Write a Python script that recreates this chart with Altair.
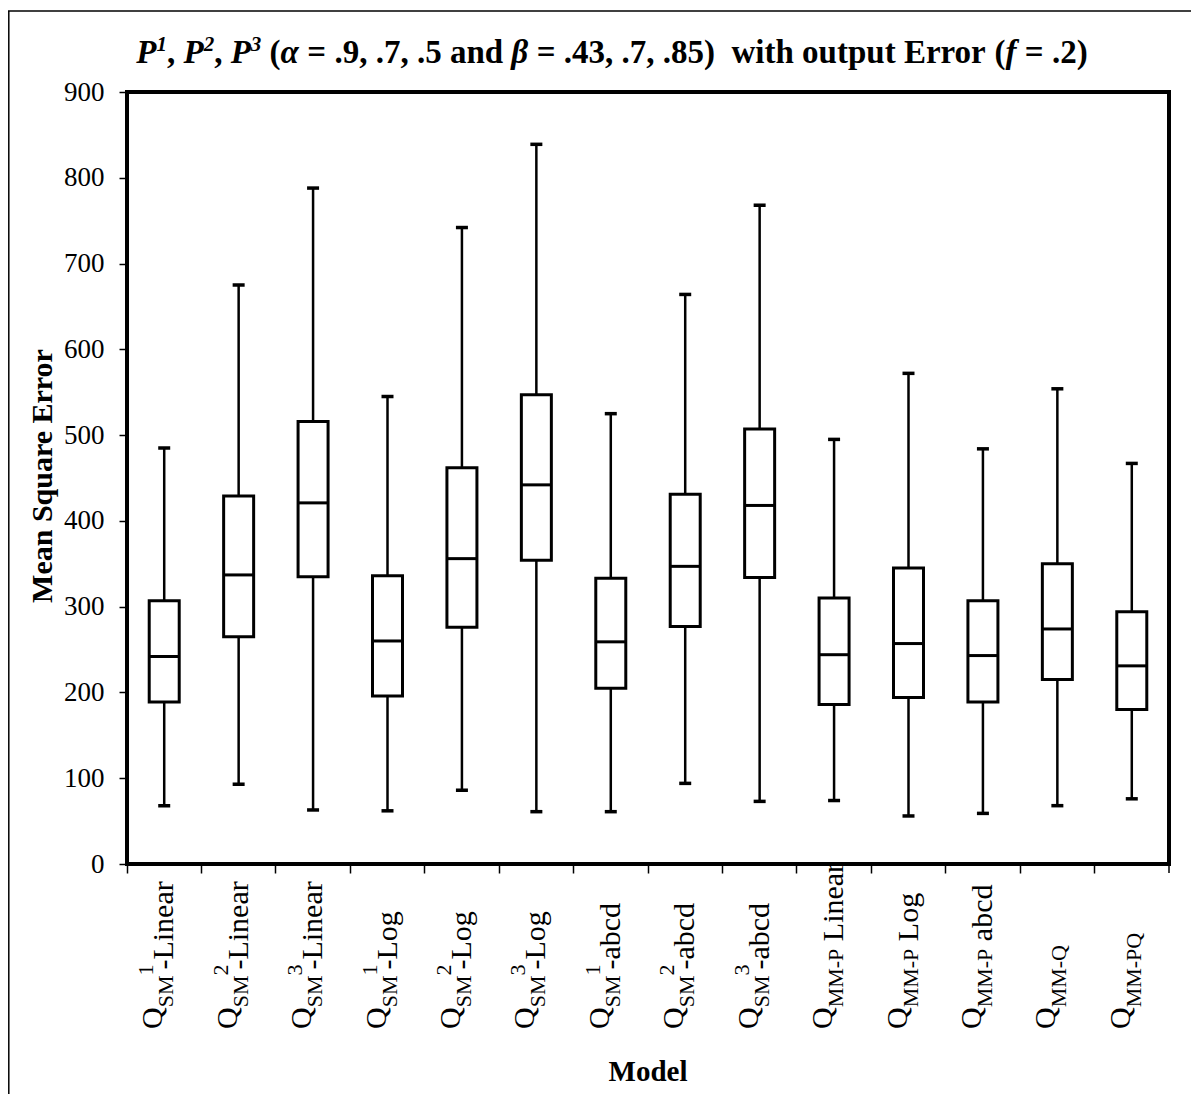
import altair as alt
import pandas as pd

# ---------------- data ----------------
cats = [f"c{i}" for i in range(1, 15)]
low  = [68, 93, 63, 62, 86, 61, 61, 94, 73, 74, 56, 59, 68, 76]
q1   = [189, 265, 335, 196, 276, 354, 205, 277, 334, 186, 194, 189, 215, 180]
med  = [242, 337, 421, 260, 356, 442, 259, 347, 418, 244, 257, 243, 274, 231]
q3   = [307, 429, 516, 336, 462, 547, 333, 431, 507, 310, 345, 307, 350, 294]
high = [485, 675, 788, 545, 742, 839, 525, 664, 768, 495, 572, 484, 554, 467]

# rich-text tick labels: Q + subscript + superscript + rest
lab_sub  = ["SM"] * 9 + ["MM-P"] * 3 + ["MM-Q", "MM-PQ"]
lab_sup  = ["1", "2", "3"] * 3 + [""] * 5
lab_main = ["-Linear"] * 3 + ["-Log"] * 3 + ["-abcd"] * 3 + [" Linear", " Log", " abcd", "", ""]

# title pieces: (text, style)  style: b = bold, bi = bold italic, sup = superscript
title_parts = [("P", "bi"), ("1", "sup"), (", ", "b"), ("P", "bi"), ("2", "sup"), (", ", "b"),
               ("P", "bi"), ("3", "sup"), (" (", "b"), ("\u03b1", "bi"), (" = .9, .7, .5 and ", "b"),
               ("\u03b2", "bi"), (" = .43, .7, .85)  with output Error (", "b"), ("f", "bi"),
               (" = .2)", "b")]
y_title = "Mean Square Error"
x_title = "Model"

# ---------------- helpers ----------------
FONT = "Liberation Serif"
BIG, SMALL = 30, 22
W = {"Q": .722, "S": .556, "M": .889, "P": .556, "-": .333, "L": .611, "i": .278,
     "n": .5, "e": .444, "a": .444, "r": .333, "o": .5, "g": .5, "b": .5, "c": .444,
     "d": .5, " ": .25, "1": .5, "2": .5, "3": .5}
WB = {" ": .25, "(": .333, ")": .333, ",": .25, ".": .25, "=": .57, "a": .5, "d": .556,
      "n": .556, "w": .722, "i": .278, "t": .333, "h": .556, "o": .5, "u": .556, "p": .556,
      "E": .667, "r": .444, "P": .611, "f": .333, "\u03b1": .56, "\u03b2": .52}


def tw(s, size, table=W):
    return sum(table.get(ch, .5) for ch in s) * size


rows = []
for i, c in enumerate(cats):
    cum = 0.0
    parts = [("Q", "q", BIG), (lab_sub[i], "sub", SMALL)]
    if lab_sup[i]:
        parts.append((lab_sup[i], "sup", SMALL))
    if lab_main[i]:
        parts.append((lab_main[i], "main", BIG))
    for txt, role, fs in parts:
        lead = len(txt) - len(txt.lstrip(" "))
        cum += tw(" " * lead, fs)
        t = txt.strip(" ")
        rows.append({"cat": c, "text": t, "role": role, "fs": fs, "off": -cum})
        cum += tw(t, fs) - (5 if role == "sup" else 0)
seg = pd.DataFrame(rows)

# title pieces laid out left to right, centred on the chart
TS, TSUP = 33, 21
trows = []
cum = 0.0
for txt, style in title_parts:
    size = TSUP if style == "sup" else TS
    words = txt.split(" ")
    for k, wd in enumerate(words):
        if k > 0:
            cum += tw(" ", size, WB)
        if wd:
            trows.append({"text": wd, "style": style, "fs": size, "px": cum})
            cum += tw(wd, size, WB)
tdf = pd.DataFrame(trows)
TITLE_CENTER = 485
tdf["px"] = tdf["px"] + TITLE_CENTER - cum / 2

box = pd.DataFrame({"cat": cats, "low": low, "q1": q1, "med": med, "q3": q3, "high": high})

xscale = alt.Scale(domain=cats, paddingInner=0, paddingOuter=0)
yscale = alt.Scale(domain=[0, 900], nice=False, zero=True)


def X():
    return alt.X("cat:N", scale=xscale, sort=cats, title=None,
                 axis=alt.Axis(labels=False, ticks=True, tickSize=9, tickColor="black",
                               tickWidth=1.5, bandPosition=0, domain=False, grid=False))


yaxis = alt.Axis(values=list(range(0, 1000, 100)), tickSize=8, tickColor="black", tickWidth=1.5,
                 labelFont=FONT, labelFontSize=27, labelColor="black", labelPadding=15,
                 domain=False, grid=False, title=None)

base = alt.Chart(box)

whisk = base.mark_rule(color="black", strokeWidth=2.5).encode(
    x=X(), y=alt.Y("low:Q", scale=yscale, axis=yaxis), y2="high:Q")
boxes = base.mark_bar(fill="white", stroke="black", strokeWidth=3, size=30).encode(
    x=X(), y=alt.Y("q1:Q", scale=yscale), y2="q3:Q")
medt = base.mark_tick(color="black", thickness=3, size=30, opacity=1).encode(
    x=X(), y=alt.Y("med:Q", scale=yscale))
capl = base.mark_tick(color="black", thickness=3.5, size=12, opacity=1).encode(
    x=X(), y=alt.Y("low:Q", scale=yscale))
caph = base.mark_tick(color="black", thickness=3.5, size=12, opacity=1).encode(
    x=X(), y=alt.Y("high:Q", scale=yscale))

shifts = {"q": -2, "sub": 9, "sup": -11, "main": 9}
label_layers = []
for role, dy in shifts.items():
    label_layers.append(
        alt.Chart(seg).transform_filter(alt.datum.role == role).mark_text(
            angle=270, align="left", baseline="alphabetic", font=FONT, color="black", dy=dy
        ).encode(
            x=X(),
            y=alt.value(937),
            yOffset=alt.YOffset("off:Q", scale=None),
            text="text:N",
            size=alt.Size("fs:Q", scale=None, legend=None),
        )
    )

title_layers = []
for style, italic, dy in [("b", "normal", 0), ("bi", "italic", 0), ("sup", "italic", -12)]:
    title_layers.append(
        alt.Chart(tdf).transform_filter(alt.datum.style == style).mark_text(
            font=FONT, fontWeight="bold", fontStyle=italic, align="left",
            baseline="alphabetic", color="black", dy=dy
        ).encode(
            x=alt.value(0),
            xOffset=alt.XOffset("px:Q", scale=None),
            y=alt.value(-29),
            text="text:N",
            size=alt.Size("fs:Q", scale=None, legend=None),
        )
    )

one = pd.DataFrame({"k": [0]})
ytitle_mark = alt.Chart(one).mark_text(
    text=y_title, font=FONT, fontWeight="bold", fontSize=30, angle=270, align="center",
    baseline="middle", color="black").encode(x=alt.value(-84), y=alt.value(384))
xtitle_mark = alt.Chart(one).mark_text(
    text=x_title, font=FONT, fontWeight="bold", fontSize=29, align="center",
    baseline="alphabetic", color="black").encode(x=alt.value(521), y=alt.value(989))

frame_top = alt.Chart(one).mark_rule(color="black", strokeWidth=1.5).encode(
    x=alt.value(-119), x2=alt.value(1064), y=alt.value(-81))
frame_left = alt.Chart(one).mark_rule(color="black", strokeWidth=1.5).encode(
    x=alt.value(-118.2), y=alt.value(-81), y2=alt.value(1004))
end_tick = alt.Chart(one).mark_rule(color="black", strokeWidth=1.5).encode(
    x=alt.value(1042), y=alt.value(772), y2=alt.value(781))

chart = alt.layer(
    frame_top, frame_left, end_tick, whisk, boxes, medt, capl, caph, *label_layers,
    *title_layers, ytitle_mark, xtitle_mark
).properties(
    width=1042, height=772,
    autosize=alt.AutoSizeParams(type="none"),
    padding={"left": 119, "top": 84, "right": 22, "bottom": 230},
    background="white",
).configure_view(stroke="black", strokeWidth=4)

chart.save("out.html", embed_options={"renderer": "svg", "actions": False})
